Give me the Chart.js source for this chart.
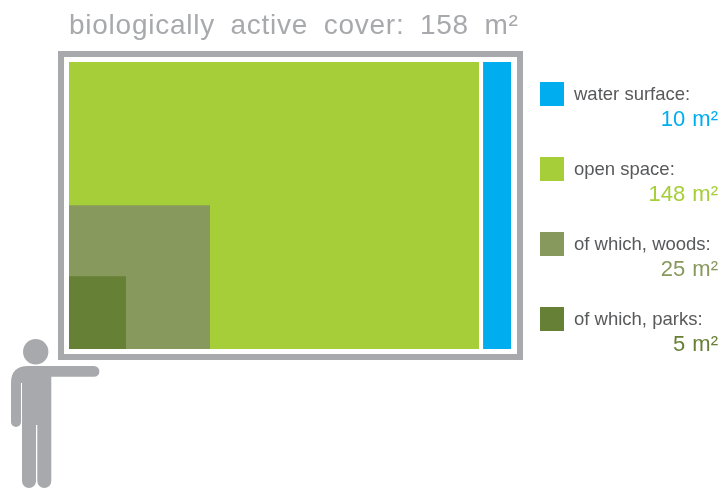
<!DOCTYPE html>
<html>
<head>
<meta charset="utf-8">
<title>biologically active cover</title>
<script src="https://cdn.jsdelivr.net/npm/chart.js@4"></script>
<style>
  html, body { margin: 0; padding: 0; background: #fff; }
  canvas { display: block; }
</style>
</head>
<body>
<canvas id="coverChart" width="722" height="488"></canvas>
<script>
const chartTitle = "biologically active cover: 158 m²";
const categories = ["water surface:", "open space:", "of which, woods:", "of which, parks:"];
const valueLabels = ["10 m²", "148 m²", "25 m²", "5 m²"];
const colors = ["#00aeef", "#a6ce39", "#87995d", "#668036"];

// rectangle extents in metres
const starts = [14.68, 0, 0, 0];
const widths = [0.99, 14.54, 5.0, 2.02];
const heights = [10.18, 10.18, 5.1, 2.58];

const GREY = "#a7a9ac";
const TEXT_GREY = "#58595b";

// frame, title, side legend and the little figure
const decorPlugin = {
  id: "decor",
  beforeDatasetsDraw(chart) {
    const { ctx, chartArea: { top, bottom, left, right } } = chart;
    ctx.save();
    ctx.strokeStyle = GREY;
    ctx.lineWidth = 6;
    ctx.strokeRect(left - 8, top - 8, right - left + 17, bottom - top + 16);
    ctx.restore();
  },
  afterDatasetsDraw(chart) {
    const { ctx } = chart;
    ctx.save();

    // title
    ctx.fillStyle = GREY;
    ctx.font = "28px 'Liberation Sans'";
    ctx.wordSpacing = "7px";
    ctx.letterSpacing = "0.75px";
    ctx.textAlign = "left";
    ctx.fillText(chartTitle, 69, 34);
    ctx.wordSpacing = "0px";
    ctx.letterSpacing = "0px";

    // legend
    categories.forEach((name, i) => {
      const y = 82 + i * 75;
      ctx.fillStyle = colors[i];
      ctx.fillRect(540, y, 24, 24);
      ctx.fillStyle = TEXT_GREY;
      ctx.textAlign = "left";
      ctx.font = "18.5px 'Liberation Sans'";
      ctx.fillText(name, 574, y + 18);
      ctx.fillStyle = colors[i];
      ctx.textAlign = "right";
      ctx.font = "22px 'Liberation Sans'";
      ctx.wordSpacing = "1px";
      ctx.fillText(valueLabels[i], 718, y + 44);
      ctx.wordSpacing = "0px";
    });

    // figure
    ctx.fillStyle = GREY;
    ctx.beginPath();
    ctx.arc(35.7, 351.7, 12.7, 0, Math.PI * 2);
    ctx.fill();
    ctx.beginPath();
    ctx.moveTo(28, 366);
    ctx.lineTo(94, 366);
    ctx.arc(94, 371.4, 5.4, -Math.PI / 2, Math.PI / 2);
    ctx.lineTo(51.3, 376.8);
    ctx.lineTo(51.3, 481);
    ctx.arc(44.3, 481, 7, 0, Math.PI);
    ctx.lineTo(37.3, 425);
    ctx.lineTo(36, 425);
    ctx.lineTo(36, 481);
    ctx.arc(29, 481, 7, 0, Math.PI);
    ctx.lineTo(22, 383);
    ctx.lineTo(21, 383);
    ctx.lineTo(21, 422);
    ctx.arc(16, 422, 5, 0, Math.PI);
    ctx.lineTo(11, 383);
    ctx.quadraticCurveTo(11, 366, 28, 366);
    ctx.closePath();
    ctx.fill();

    ctx.restore();
  },
};

new Chart(document.getElementById("coverChart"), {
  type: "scatter",
  data: {
    datasets: categories.map((name, i) => ({
      label: name,
      data: [
        { x: starts[i], y: heights[i] },
        { x: starts[i] + widths[i], y: heights[i] },
      ],
      showLine: true,
      fill: "origin",
      backgroundColor: colors[i],
      borderWidth: 0,
      pointRadius: 0,
      // later categories sit on top of the earlier ones
      order: categories.length - i,
    })),
  },
  options: {
    responsive: false,
    animation: false,
    layout: { padding: { left: 69, top: 62, right: 211, bottom: 139 } },
    scales: {
      x: { type: "linear", min: 0, max: 15.67, display: false },
      y: { type: "linear", min: 0, max: 10.18, display: false },
    },
    plugins: {
      legend: { display: false },
      tooltip: { enabled: false },
    },
  },
  plugins: [decorPlugin],
});
</script>
</body>
</html>
